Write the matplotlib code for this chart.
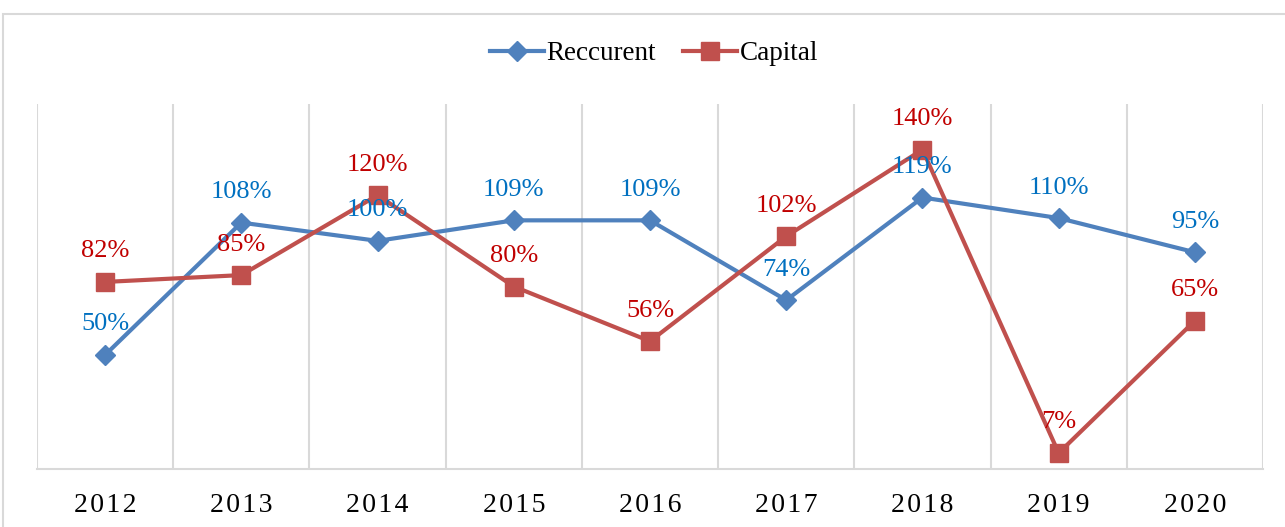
import numpy as np
import matplotlib
matplotlib.use("Agg")
import matplotlib.pyplot as plt
from matplotlib.patches import Rectangle

# data
years = ["2012", "2013", "2014", "2015", "2016", "2017", "2018", "2019", "2020"]
reccurent = [50, 108, 100, 109, 109, 74, 119, 110, 95]
capital = [82, 85, 120, 80, 56, 102, 140, 7, 65]

plt.rcParams['font.family'] = ['Liberation Serif', 'DejaVu Serif']

fig = plt.figure(figsize=(12.85, 5.27), dpi=100)
ax = fig.add_axes([37/1285, 1-469/527, (1263-37)/1285, (469-104)/527])

# outer chart frame (light gray)
fig.patches.append(Rectangle((3/1285, -0.05), 1.1, 1-14/527+0.05, transform=fig.transFigure,
                             fill=False, edgecolor='#D9D9D9', linewidth=1.5))

x = np.arange(len(years))
blue = '#4F81BD'
red = '#C0504D'
ax.plot(x, reccurent, color=blue, lw=3, marker='D', ms=10, label='Reccurent', zorder=3)
ax.plot(x, capital, color=red, lw=3, marker='s', ms=12.5, label='Capital', zorder=3)

for xi, v in zip(x, reccurent):
    ax.annotate(f"{v}%", (xi, v), xytext=(0, 22), textcoords='offset points',
                ha='center', va='center', color='#0070C0', fontsize=19, zorder=4)
for xi, v in zip(x, capital):
    ax.annotate(f"{v}%", (xi, v), xytext=(0, 22), textcoords='offset points',
                ha='center', va='center', color='#C00000', fontsize=19, zorder=4)

ax.set_xlim(-0.5, len(years) - 0.5)
ax.set_ylim(0, 160)
ax.set_yticks([])
ax.set_xticks(x)
ax.set_xticklabels(["\u200a".join(y) for y in years], fontsize=20)
ax.set_xticks(np.arange(-0.5, len(years), 1), minor=True)
ax.tick_params(axis='x', which='both', length=0, pad=17)
ax.grid(axis='x', which='minor', color='#D9D9D9', lw=1.5)
for s in ['top', 'right', 'left']:
    ax.spines[s].set_visible(False)
ax.spines['bottom'].set_color('#D9D9D9')
ax.spines['bottom'].set_linewidth(1.5)

fig.legend(loc='center', bbox_to_anchor=(654/1285, 1-54/527), ncol=2, frameon=False,
           fontsize=19.5, handlelength=2.0, columnspacing=1.0, handletextpad=0.1)

fig.savefig("out.png", dpi=100)
